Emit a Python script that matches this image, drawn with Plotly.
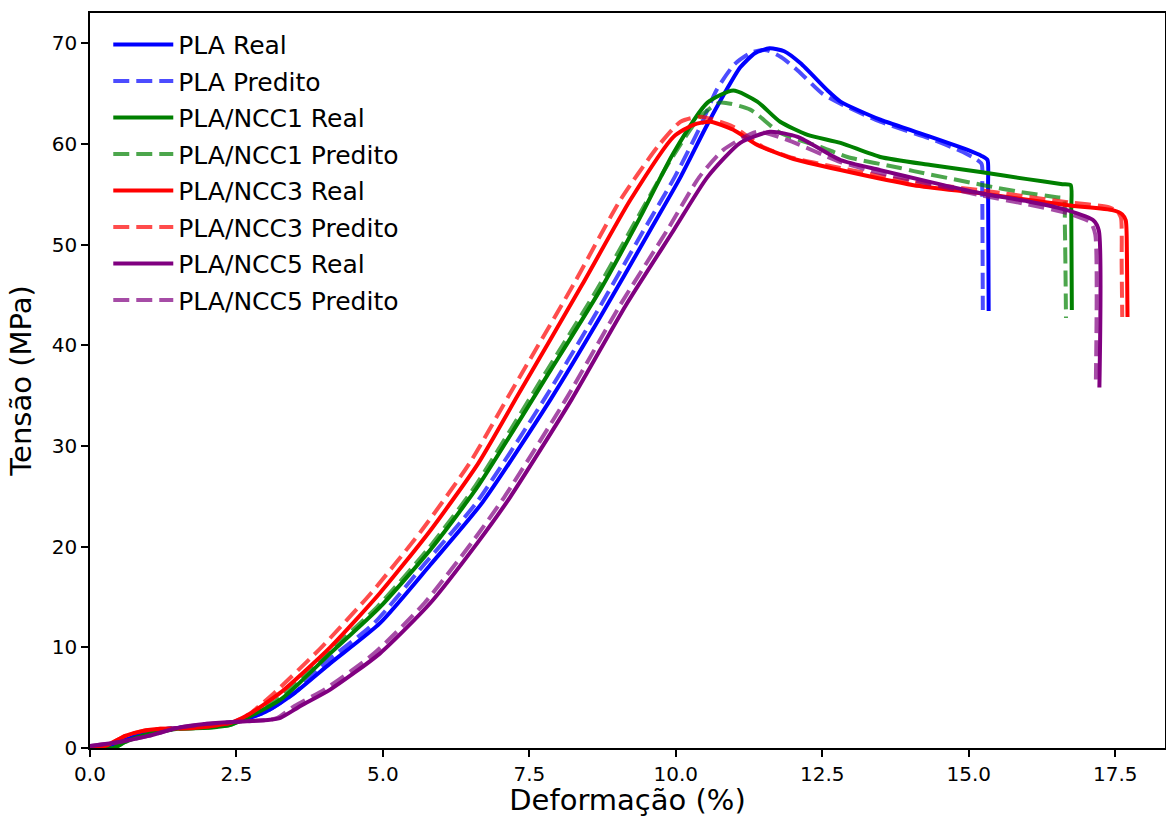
import plotly.graph_objects as go

# ---------------- data ----------------
pla_real_x = [0, 0.3, 0.6, 0.9, 1.3, 2.0, 2.5, 3.0, 3.5, 4.1, 4.95, 5.81, 6.7, 7.86, 8.71, 9.56, 10.08, 10.5, 10.81, 11.1, 11.35, 11.6, 11.85, 12.13, 12.59, 12.81, 13.49, 14.35, 14.98, 15.22, 15.32, 15.33, 15.34]
pla_real_y = [0, 0.2, 0.8, 1.5, 1.9, 2.2, 2.6, 3.6, 5.5, 8.4, 12.4, 18.2, 24.4, 34.6, 42.8, 51.4, 56.7, 61.5, 64.8, 67.6, 69.0, 69.5, 69.2, 68.0, 65.3, 64.2, 62.4, 60.7, 59.4, 58.8, 58.4, 56.0, 43.4]

pla_pred_x = [0, 0.3, 0.6, 0.9, 1.3, 2.0, 2.5, 3.0, 3.5, 4.0, 4.85, 5.7, 6.6, 7.75, 8.6, 9.45, 9.98, 10.4, 10.7, 11.0, 11.3, 11.55, 11.8, 12.08, 12.5, 12.81, 13.49, 14.35, 14.9, 15.12, 15.22, 15.23, 15.24]
pla_pred_y = [0, 0.2, 0.8, 1.5, 1.9, 2.2, 2.6, 3.6, 5.5, 8.4, 12.4, 18.2, 24.4, 34.6, 42.8, 51.4, 56.7, 61.5, 65.4, 67.9, 69.1, 69.3, 68.6, 67.3, 65.0, 64.0, 62.2, 60.5, 59.2, 58.5, 58.0, 55.5, 43.5]

ncc1_real_x = [0, 0.4, 0.6, 1.0, 1.5, 2.0, 2.4, 3.25, 4.1, 4.95, 5.81, 6.6, 7.86, 8.71, 9.39, 9.96, 10.54, 10.98, 11.39, 11.78, 12.25, 12.81, 13.49, 14.35, 15.2, 16.0, 16.6, 16.74, 16.75, 16.76]
ncc1_real_y = [0, 0, 0.6, 1.4, 1.9, 2.0, 2.3, 4.8, 9.4, 14.0, 19.7, 25.8, 37.5, 45.5, 52.7, 59.1, 64.1, 65.3, 64.2, 62.2, 60.9, 60.1, 58.7, 57.9, 57.2, 56.5, 56.0, 55.9, 53.5, 43.5]

ncc1_pred_x = [0, 0.4, 0.6, 1.0, 1.5, 2.0, 2.4, 3.2, 4.05, 4.9, 5.76, 6.55, 7.8, 8.65, 9.33, 9.9, 10.4, 10.75, 11.27, 11.78, 12.47, 12.93, 13.83, 14.06, 15.25, 15.9, 16.5, 16.62, 16.64, 16.66]
ncc1_pred_y = [0, 0, 0.6, 1.4, 1.9, 2.0, 2.3, 4.8, 9.4, 14.0, 19.7, 25.8, 37.5, 45.5, 52.5, 58.3, 62.6, 64.1, 63.4, 61.1, 59.7, 58.7, 57.6, 57.3, 55.9, 55.2, 54.7, 54.6, 52.0, 42.7]

ncc3_real_x = [0, 0.3, 0.6, 0.9, 1.2, 1.8, 2.4, 2.7, 3.25, 4.1, 4.95, 5.81, 6.63, 7.3, 8.4, 9.22, 9.96, 10.3, 10.59, 10.98, 11.39, 11.96, 12.81, 14.06, 15.2, 16.69, 17.47, 17.62, 17.68, 17.70, 17.71]
ncc3_real_y = [0, 0.3, 1.2, 1.7, 1.9, 2.0, 2.5, 3.3, 5.5, 10.0, 15.4, 21.6, 28.3, 35.0, 46.0, 54.4, 60.7, 61.9, 62.2, 61.4, 59.9, 58.6, 57.4, 55.9, 55.1, 53.9, 53.4, 53.0, 52.4, 49.0, 42.8]

ncc3_pred_x = [0, 0.3, 0.6, 0.9, 1.2, 1.8, 2.4, 2.7, 3.15, 3.95, 4.8, 5.66, 6.48, 7.15, 8.25, 9.05, 9.7, 10.08, 10.42, 10.98, 11.49, 12.0, 12.81, 14.06, 15.2, 16.69, 17.4, 17.55, 17.6, 17.61, 17.62]
ncc3_pred_y = [0, 0.3, 1.2, 1.7, 1.9, 2.0, 2.5, 3.3, 5.5, 10.0, 15.4, 21.6, 28.3, 35.0, 46.0, 54.4, 59.8, 62.2, 62.7, 61.7, 59.7, 58.6, 57.6, 56.2, 55.4, 54.2, 53.7, 53.2, 52.6, 48.0, 42.8]

ncc5_real_x = [0, 0.5, 1.0, 1.5, 2.0, 2.5, 3.07, 3.25, 3.6, 4.1, 4.95, 5.81, 6.63, 7.17, 8.22, 9.15, 9.96, 10.54, 11.1, 11.61, 12.08, 12.81, 13.49, 14.35, 15.2, 16.0, 16.69, 17.13, 17.22, 17.23]
ncc5_real_y = [0.2, 0.6, 1.2, 2.0, 2.4, 2.6, 2.8, 3.0, 4.2, 5.8, 9.4, 14.4, 20.5, 24.9, 34.6, 44.0, 51.4, 56.7, 60.1, 61.2, 60.7, 58.4, 57.4, 56.2, 55.1, 54.3, 53.4, 52.4, 51.4, 35.8]

ncc5_pred_x = [0, 0.5, 1.0, 1.5, 2.0, 2.5, 3.07, 3.2, 3.5, 4.0, 4.85, 5.71, 6.53, 7.07, 8.12, 9.05, 9.85, 10.4, 10.81, 11.39, 11.9, 12.81, 13.49, 14.35, 15.2, 16.0, 16.69, 17.08, 17.16, 17.17]
ncc5_pred_y = [0.2, 0.6, 1.2, 2.0, 2.4, 2.6, 2.8, 3.0, 4.2, 5.8, 9.4, 14.4, 20.5, 24.9, 34.6, 44.0, 51.4, 56.7, 59.4, 61.2, 60.4, 58.2, 57.1, 56.0, 54.9, 54.0, 53.1, 52.2, 51.0, 36.5]

series_names = ["PLA Real", "PLA Predito", "PLA/NCC1 Real", "PLA/NCC1 Predito",
                "PLA/NCC3 Real", "PLA/NCC3 Predito", "PLA/NCC5 Real", "PLA/NCC5 Predito"]
series_x = [pla_real_x, pla_pred_x, ncc1_real_x, ncc1_pred_x, ncc3_real_x, ncc3_pred_x, ncc5_real_x, ncc5_pred_x]
series_y = [pla_real_y, pla_pred_y, ncc1_real_y, ncc1_pred_y, ncc3_real_y, ncc3_pred_y, ncc5_real_y, ncc5_pred_y]

x_ticks = [0.0, 2.5, 5.0, 7.5, 10.0, 12.5, 15.0, 17.5]
y_ticks = [0, 10, 20, 30, 40, 50, 60, 70]

# ---------------- styles ----------------
solid_colors = ["rgb(0,0,255)", "rgb(0,128,0)", "rgb(255,0,0)", "rgb(128,0,128)"]
dash_colors = ["rgba(0,0,255,0.7)", "rgba(0,128,0,0.7)", "rgba(255,0,0,0.7)", "rgba(128,0,128,0.7)"]

FONT = "DejaVu Sans"
fig = go.Figure()
for i, (name, xs, ys) in enumerate(zip(series_names, series_x, series_y)):
    k = i // 2
    pred = (i % 2 == 1)
    fig.add_trace(go.Scatter(
        x=xs, y=ys, mode="lines", name=name, legendgroup=name,
        line=dict(color=dash_colors[k] if pred else solid_colors[k], width=4,
                  dash="16px,7px" if pred else "solid", shape="spline", smoothing=0.6),
    ))

axis_common = dict(showline=True, linecolor="black", linewidth=1.6, mirror=True,
                   ticks="outside", ticklen=7, tickwidth=1.6, tickcolor="black",
                   showgrid=False, zeroline=False, automargin=False,
                   tickfont=dict(family=FONT, size=20, color="black"))

fig.update_layout(
    width=1166, height=817,
    margin=dict(l=90, r=1, t=13, b=69),
    paper_bgcolor="white", plot_bgcolor="white",
    font=dict(family=FONT, color="black"),
    showlegend=True,
    legend=dict(x=0.017, y=0.988, xanchor="left", yanchor="top",
                bgcolor="rgba(255,255,255,0)", borderwidth=0,
                font=dict(family=FONT, size=25, color="black"),
                tracegroupgap=1, itemwidth=60),
    xaxis=dict(range=[0, 18.35], tickvals=x_ticks, ticktext=[f"{v:.1f}" for v in x_ticks],
               title=dict(text="Deformação (%)", font=dict(family=FONT, size=29), standoff=9),
               **axis_common),
    yaxis=dict(range=[0, 73.0], tickvals=y_ticks,
               title=dict(text="Tensão (MPa)", font=dict(family=FONT, size=29), standoff=12),
               **axis_common),
)

fig.write_html("out.html", config={"displayModeBar": False},
               post_script="document.body.style.margin='0';document.body.style.overflow='hidden';")
